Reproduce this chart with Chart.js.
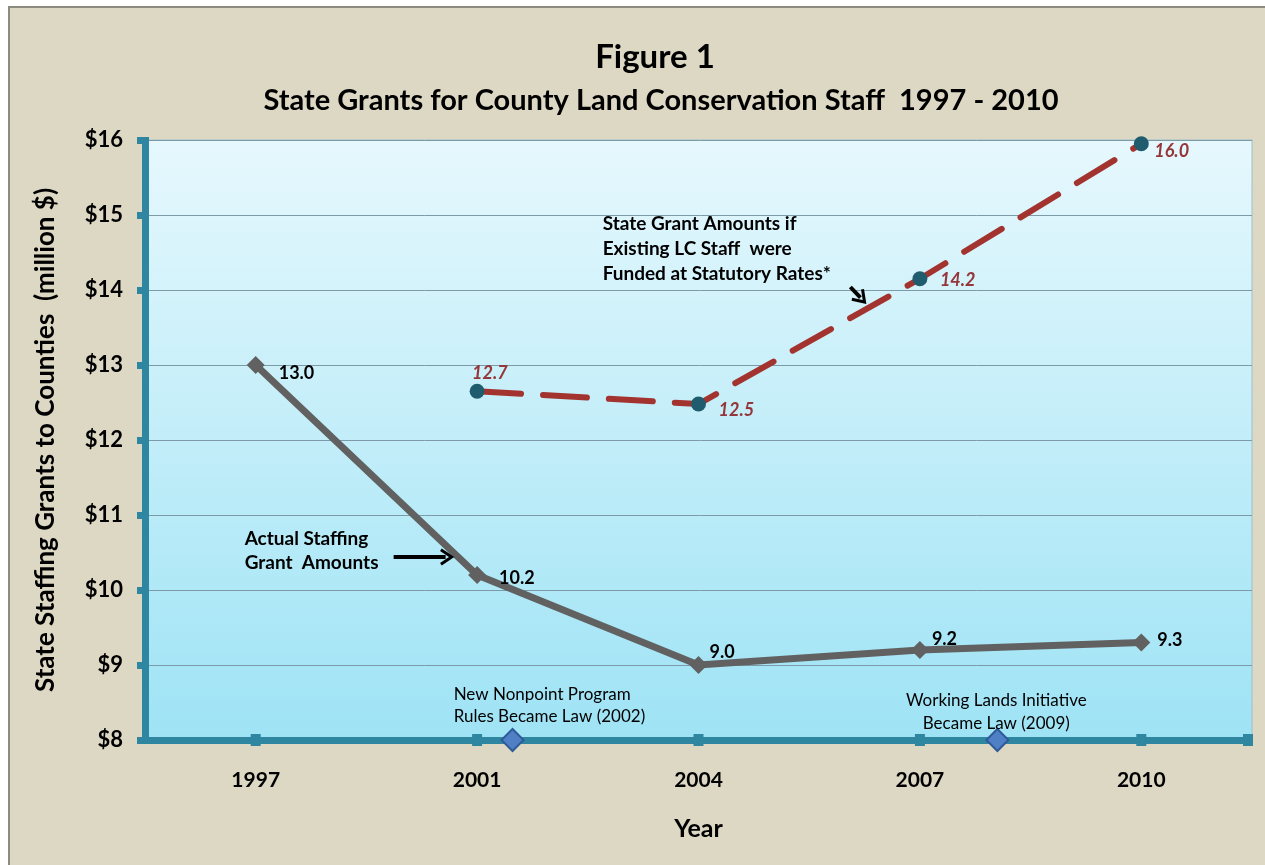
<!DOCTYPE html>
<html>
<head>
<meta charset="utf-8">
<script src="https://cdn.jsdelivr.net/npm/chart.js@4.4.0/dist/chart.umd.min.js"></script>
<style>
    html, body { margin: 0; padding: 0; background: #ffffff; overflow: hidden; }
    #frame { position: absolute; left: 8px; top: 6px; width: 1270px; height: 870px; border: 2px solid #8d8b80; background: #ddd8c3; }
    #wrap { position: absolute; left: 0; top: 0; width: 1265px; height: 865px; }
</style>
</head>
<body>
<div id="frame"></div>
<div id="wrap"><canvas id="grantsChart"></canvas></div>
<script>
const years = ['1997', '2001', '2004', '2007', '2010'];
const actualGrants = [13.0, 10.2, 9.0, 9.2, 9.3];
const actualLabels = ['13.0', '10.2', '9.0', '9.2', '9.3'];
const statutoryGrants = [null, 12.65, 12.48, 14.15, 15.95];
const statutoryLabels = [null, '12.7', '12.5', '14.2', '16.0'];
// milestones sit between the year categories (index units along the year axis)
const milestoneAt = [1.16, 3.35];
const yMin = 8, yMax = 16;

const FONT = 'Lato, "Open Sans", sans-serif';
const teal = '#2f86a0';

document.addEventListener('DOMContentLoaded', function () {
    const ctx = document.getElementById('grantsChart').getContext('2d');

    const toPoints = (vals) => vals.map((v, i) => ({ x: i, y: v }));

    // background gradient for the plot area
    const plotBackground = {
        id: 'plotBackground',
        beforeDraw(chart) {
            const { ctx, chartArea: a } = chart;
            const g = ctx.createLinearGradient(0, a.top, 0, a.bottom);
            g.addColorStop(0, '#e6f8fd');
            g.addColorStop(1, '#9ee3f5');
            ctx.save();
            ctx.fillStyle = g;
            ctx.fillRect(a.left, a.top, a.right - a.left, a.bottom - a.top);
            ctx.strokeStyle = '#9fbfca';
            ctx.lineWidth = 1;
            ctx.strokeRect(a.left, a.top, a.right - a.left, a.bottom - a.top);
            ctx.restore();
        }
    };

    // square tick marks on the year axis
    const axisSquares = {
        id: 'axisSquares',
        beforeDatasetsDraw(chart) {
            const { ctx, scales } = chart;
            const x = scales.x, y = scales.y;
            const yy = y.getPixelForValue(yMin);
            ctx.save();
            ctx.fillStyle = teal;
            const spots = years.map((_, i) => x.getPixelForValue(i)).concat([x.right - 4]);
            spots.forEach(px => ctx.fillRect(px - 5, yy - 6, 10, 12));
            ctx.restore();
        }
    };

    // titles, notes and arrows
    const notes = {
        id: 'notes',
        afterDatasetsDraw(chart) {
            const { ctx, scales } = chart;
            const X = v => scales.x.getPixelForValue(v);
            const Y = v => scales.y.getPixelForValue(v);
            ctx.save();
            ctx.fillStyle = '#000';
            ctx.textBaseline = 'middle';

            ctx.textAlign = 'center';
            ctx.font = 'bold 33px ' + FONT;
            ctx.fillText('Figure 1', 655, 57);
            ctx.font = 'bold 29px ' + FONT;
            ctx.fillText('State Grants for County Land Conservation Staff  1997 - 2010', 661, 101);

            ctx.textAlign = 'left';
            ctx.font = 'bold 19px ' + FONT;
            ['State Grant Amounts if', 'Existing LC Staff  were', 'Funded at Statutory Rates*']
                .forEach((t, i) => ctx.fillText(t, X(1.567), Y(14.88) + i * 25));
            ['Actual Staffing', 'Grant  Amounts']
                .forEach((t, i) => ctx.fillText(t, X(-0.05), Y(10.68) + i * 24));

            ctx.font = '17px ' + FONT;
            ['New Nonpoint Program', 'Rules Became Law (2002)']
                .forEach((t, i) => ctx.fillText(t, X(0.894), Y(8.6) + i * 22));
            ctx.textAlign = 'center';
            ['Working Lands Initiative', 'Became Law (2009)']
                .forEach((t, i) => ctx.fillText(t, X(3.345), Y(8.52) + i * 23));

            const arrow = (x1, y1, x2, y2) => {
                const ang = Math.atan2(y2 - y1, x2 - x1);
                ctx.strokeStyle = '#000';
                ctx.lineWidth = 4;
                ctx.beginPath();
                ctx.moveTo(x1, y1);
                ctx.lineTo(x2 - 6 * Math.cos(ang), y2 - 6 * Math.sin(ang));
                ctx.stroke();
                ctx.lineWidth = 3;
                ctx.beginPath();
                ctx.moveTo(x2 - 13 * Math.cos(ang - 0.6), y2 - 13 * Math.sin(ang - 0.6));
                ctx.lineTo(x2, y2);
                ctx.lineTo(x2 - 13 * Math.cos(ang + 0.6), y2 - 13 * Math.sin(ang + 0.6));
                ctx.stroke();
            };
            arrow(X(0.623), Y(10.44), X(0.885), Y(10.44));
            arrow(X(2.686), Y(14.04), X(2.75), Y(13.84));
            ctx.restore();
        }
    };

    // value labels next to the points
    const valueLabels = {
        id: 'valueLabels',
        afterDatasetsDraw(chart) {
            const { ctx } = chart;
            const sets = [
                { ds: 0, text: actualLabels, color: '#000', font: 'bold 18px ' + FONT,
                  off: [[23, 8], [22, 3], [11, -13], [12, -11], [16, -2]] },
                { ds: 1, text: statutoryLabels, color: '#94363a', font: 'italic bold 18px ' + FONT,
                  off: [null, [-5, -18], [20, 6], [20, 1], [13, 7]] }
            ];
            ctx.save();
            ctx.textBaseline = 'middle';
            ctx.textAlign = 'left';
            sets.forEach(s => {
                const meta = chart.getDatasetMeta(s.ds);
                ctx.fillStyle = s.color;
                ctx.font = s.font;
                meta.data.forEach((pt, i) => {
                    if (!s.text[i]) return;
                    ctx.fillText(s.text[i], pt.x + s.off[i][0], pt.y + s.off[i][1]);
                });
            });
            ctx.restore();
        }
    };

    const config = {
        type: 'line',
        data: {
            datasets: [
                {
                    label: 'Actual Staffing Grant Amounts',
                    data: toPoints(actualGrants),
                    borderColor: '#616161',
                    backgroundColor: '#616161',
                    borderWidth: 7,
                    pointStyle: 'rectRot',
                    pointRadius: 9,
                    pointBorderWidth: 0,
                    clip: false
                },
                {
                    label: 'State Grant Amounts if Funded at Statutory Rates',
                    data: toPoints(statutoryGrants),
                    borderColor: '#a2332f',
                    backgroundColor: '#1f5d6e',
                    borderWidth: 6,
                    borderDash: [44, 22],
                    borderCapStyle: 'round',
                    pointStyle: 'circle',
                    pointRadius: 7.5,
                    pointBorderWidth: 0,
                    spanGaps: false,
                    clip: false
                },
                {
                    label: 'Milestones',
                    data: milestoneAt.map(m => ({ x: m, y: yMin })),
                    showLine: false,
                    backgroundColor: '#4f80c6',
                    borderColor: '#2f5a98',
                    borderWidth: 2,
                    pointStyle: 'rectRot',
                    pointRadius: 11,
                    clip: false
                }
            ]
        },
        options: {
            responsive: true,
            maintainAspectRatio: false,
            animation: false,
            layout: { padding: { top: 140, right: 7, left: 0, bottom: 0 } },
            plugins: {
                legend: { display: false },
                tooltip: { enabled: false }
            },
            scales: {
                x: {
                    type: 'linear',
                    min: -0.5,
                    max: 4.5,
                    afterBuildTicks: s => { s.ticks = years.map((_, i) => ({ value: i })); },
                    afterFit: s => { s.height = 125; },
                    ticks: {
                        callback: v => years[v],
                        color: '#000',
                        font: { family: FONT, size: 21, weight: 'bold' },
                        padding: 28
                    },
                    grid: { display: false, drawTicks: false },
                    border: { color: teal, width: 7 },
                    title: {
                        display: true,
                        text: 'Year',
                        color: '#000',
                        font: { family: FONT, size: 25, weight: 'bold' },
                        padding: { top: 14, bottom: 21 }
                    }
                },
                y: {
                    min: yMin,
                    max: yMax,
                    afterFit: s => { s.width = 145; },
                    ticks: {
                        stepSize: 1,
                        callback: v => '$' + v,
                        color: '#000',
                        font: { family: FONT, size: 22, weight: 'bold' },
                        padding: 14
                    },
                    grid: {
                        color: '#7c9aa8',
                        lineWidth: 1,
                        tickColor: teal,
                        tickLength: 8,
                        tickWidth: 7
                    },
                    border: { color: teal, width: 7 },
                    title: {
                        display: true,
                        text: 'State Staffing Grants to Counties  (million $)',
                        color: '#000',
                        font: { family: FONT, size: 26, weight: 'bold' },
                        padding: { top: 30, bottom: 0 }
                    }
                }
            }
        },
        plugins: [plotBackground, axisSquares, notes, valueLabels]
    };

    new Chart(ctx, config);
});
</script>
</body>
</html>
